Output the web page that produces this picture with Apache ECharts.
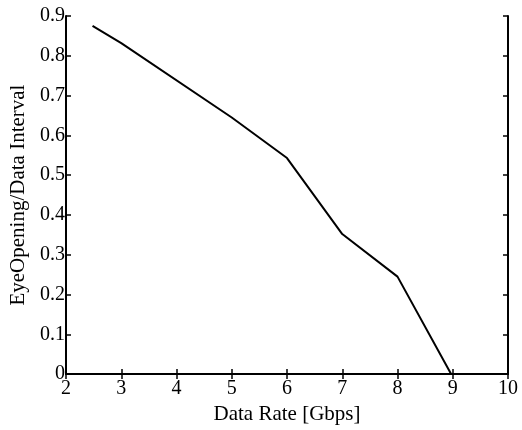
<!DOCTYPE html>
<html>
<head>
<meta charset="utf-8">
<script src="https://cdn.jsdelivr.net/npm/echarts@6/dist/echarts.min.js"></script>
<style>
html,body{margin:0;padding:0;background:#fff;}
#chart{width:522px;height:430px;}
</style>
</head>
<body>
<div id="chart"></div>
<script>
var dataRate = [2.48, 3.0, 5.0, 6.0, 7.0, 8.0, 8.97];
var eyeRatio = [0.875, 0.832, 0.645, 0.543, 0.352, 0.245, 0.0];
var xLabel = 'Data Rate [Gbps]';
var yLabel = 'EyeOpening/Data Interval';

var font = 'Liberation Serif';
var chart = echarts.init(document.getElementById('chart'), null, {renderer: 'canvas'});
var pts = dataRate.map(function (x, i) { return [x, eyeRatio[i]]; });
var axisLine = {show: true, lineStyle: {color: '#000', width: 2}};
var tickIn = {show: true, inside: true, length: 5, lineStyle: {color: '#000', width: 1.5}};
chart.setOption({
  animation: false,
  backgroundColor: '#fff',
  grid: {left: 65, right: 14, top: 16, bottom: 51, containLabel: false},
  xAxis: [{
    type: 'value', min: 2, max: 10, interval: 1, position: 'bottom',
    name: xLabel, nameLocation: 'middle', nameGap: 25,
    nameTextStyle: {fontFamily: font, fontSize: 21, color: '#000'},
    axisLine: axisLine, axisTick: tickIn, splitLine: {show: false},
    axisLabel: {fontFamily: font, fontSize: 20, color: '#000', margin: 5}
  }, {
    type: 'value', min: 2, max: 10, interval: 1, position: 'top',
    axisLine: axisLine, axisTick: tickIn, splitLine: {show: false},
    axisLabel: {show: false}
  }],
  yAxis: [{
    type: 'value', min: 0, max: 0.9, interval: 0.1, position: 'left',
    name: yLabel, nameLocation: 'middle', nameGap: 37,
    nameTextStyle: {fontFamily: font, fontSize: 21, color: '#000'},
    axisLine: axisLine, axisTick: tickIn, splitLine: {show: false},
    axisLabel: {fontFamily: font, fontSize: 20, color: '#000', margin: 1,
      formatter: function (v) { return v === 0 ? '0' : v.toFixed(1); }}
  }, {
    type: 'value', min: 0, max: 0.9, interval: 0.1, position: 'right',
    axisLine: axisLine, axisTick: tickIn, splitLine: {show: false},
    axisLabel: {show: false}
  }],
  series: [{
    type: 'line', data: pts, showSymbol: false, symbol: 'none',
    lineStyle: {color: '#000', width: 2}, xAxisIndex: 0, yAxisIndex: 0
  }]
});
</script>
</body>
</html>
